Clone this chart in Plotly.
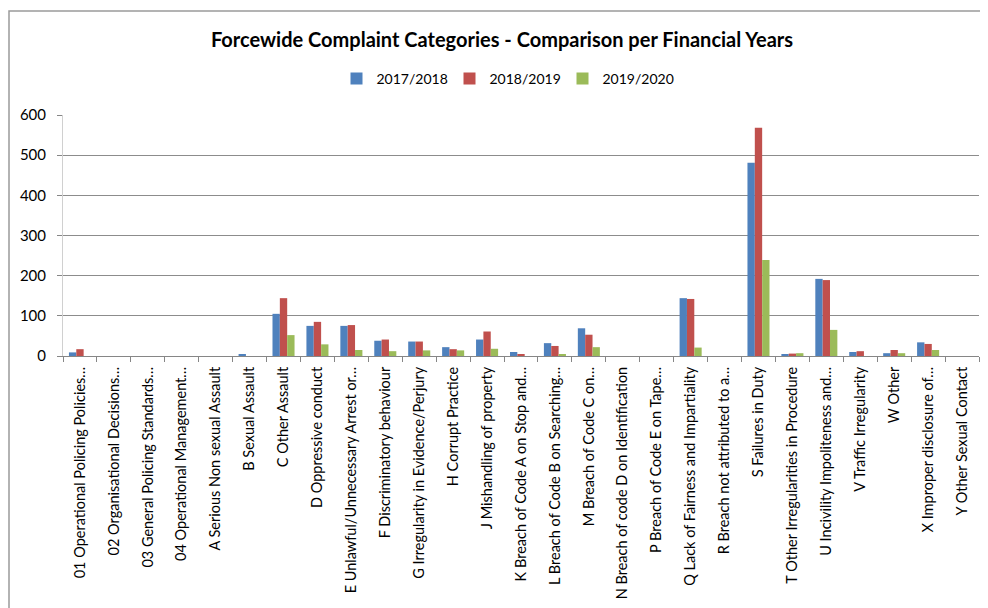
import plotly.graph_objects as go

# Complaint categories (labels as truncated in the original chart)
categories = [
    "01 Operational Policing Policies…",
    "02 Organisational Decisions…",
    "03 General Policing Standards…",
    "04 Operational Management…",
    "A Serious Non sexual Assault",
    "B Sexual Assault",
    "C Other Assault",
    "D Oppressive conduct",
    "E Unlawful/Unnecessary Arrest or…",
    "F Discriminatory behaviour",
    "G Irregularity in Evidence/Perjury",
    "H Corrupt Practice",
    "J Mishandling of property",
    "K Breach of Code A on Stop and…",
    "L Breach of Code B on Searching…",
    "M Breach of Code C on…",
    "N Breach of code D on Identification",
    "P Breach of Code E on Tape…",
    "Q Lack of Fairness and Impartiality",
    "R Breach not attributed to a…",
    "S Failures in Duty",
    "T Other Irregularities in Procedure",
    "U Incivility Impoliteness and…",
    "V Traffic Irregularity",
    "W Other",
    "X Improper disclosure of…",
    "Y Other Sexual Contact",
]

fy_2017_18 = [9, 0, 0, 0, 0, 3, 105, 75, 75, 38, 36, 22, 41, 10, 32, 69, 0, 0,
              144, 0, 481, 3, 192, 10, 7, 34, 0]
fy_2018_19 = [17, 0, 0, 0, 0, 0, 144, 85, 77, 41, 36, 17, 61, 3, 25, 53, 0, 0,
              142, 0, 568, 6, 189, 12, 15, 30, 0]
fy_2019_20 = [0, 0, 0, 0, 0, 0, 52, 29, 15, 12, 14, 14, 18, 0, 5, 22, 0, 0,
              21, 0, 239, 7, 65, 0, 7, 15, 0]

series = [
    ("2017/2018", fy_2017_18, "#4F81BD"),
    ("2018/2019", fy_2018_19, "#C0504D"),
    ("2019/2020", fy_2019_20, "#9BBB59"),
]

FONT = "Lato, Open Sans, sans-serif"

# page body has an 8px margin, so the figure is 980x600 and sits at (8, 8)
W, H, OFF = 980, 600, 8
# plot area in page pixels: x 63..979, y 115..356
L, R, T, B = 63 - OFF, W + OFF - 979, 115 - OFF, H + OFF - 356
pw, ph = W - L - R, H - T - B


def px_x(p):
    return (p - OFF - L) / pw


def px_y(p):
    return (H - B - (p - OFF)) / ph


fig = go.Figure()
for name, vals, color in series:
    fig.add_trace(go.Bar(x=categories, y=vals, name=name, marker_color=color,
                         marker_line_width=0))

# outer chart frame (as in the spreadsheet export)
fig.add_shape(type="rect", xref="paper", yref="paper",
              x0=px_x(9), x1=px_x(1000), y0=px_y(620), y1=px_y(11),
              line=dict(color="#9A9A9A", width=1.5), fillcolor="rgba(0,0,0,0)",
              layer="below")

fig.update_layout(
    width=W,
    height=H,
    margin=dict(l=L, r=R, t=T, b=B, autoexpand=False),
    paper_bgcolor="white",
    plot_bgcolor="white",
    barmode="group",
    bargap=0.35,
    bargroupgap=0,
    font=dict(family=FONT, color="#000000"),
    title=dict(text="<b>Forcewide Complaint Categories - Comparison per Financial Years</b>",
               x=px_x(502), xref="paper", xanchor="center",
               y=1 - (40 - OFF) / H, yanchor="middle",
               font=dict(size=20, family=FONT)),
    legend=dict(orientation="h", x=px_x(506), xanchor="center", y=px_y(79), yanchor="middle",
                font=dict(size=14), entrywidth=68, traceorder="normal"),
    showlegend=True,
)

fig.update_xaxes(
    type="category",
    tickangle=-90,
    tickfont=dict(size=14.5),
    ticklabelstandoff=4,
    showline=True, linecolor="#868686", linewidth=1,
    ticks="outside", tickson="boundaries", ticklen=5, tickcolor="#868686",
    showgrid=False,
)
fig.update_yaxes(
    range=[0, 600],
    tickvals=[0, 100, 200, 300, 400, 500, 600],
    tickfont=dict(size=15),
    ticklabelstandoff=8,
    showgrid=True, gridcolor="#8C8C8C", gridwidth=1,
    showline=True, linecolor="#D0D0D0", linewidth=1,
    ticks="outside", ticklen=5, tickcolor="#868686",
    zeroline=False,
)

fig.write_html("out.html")
